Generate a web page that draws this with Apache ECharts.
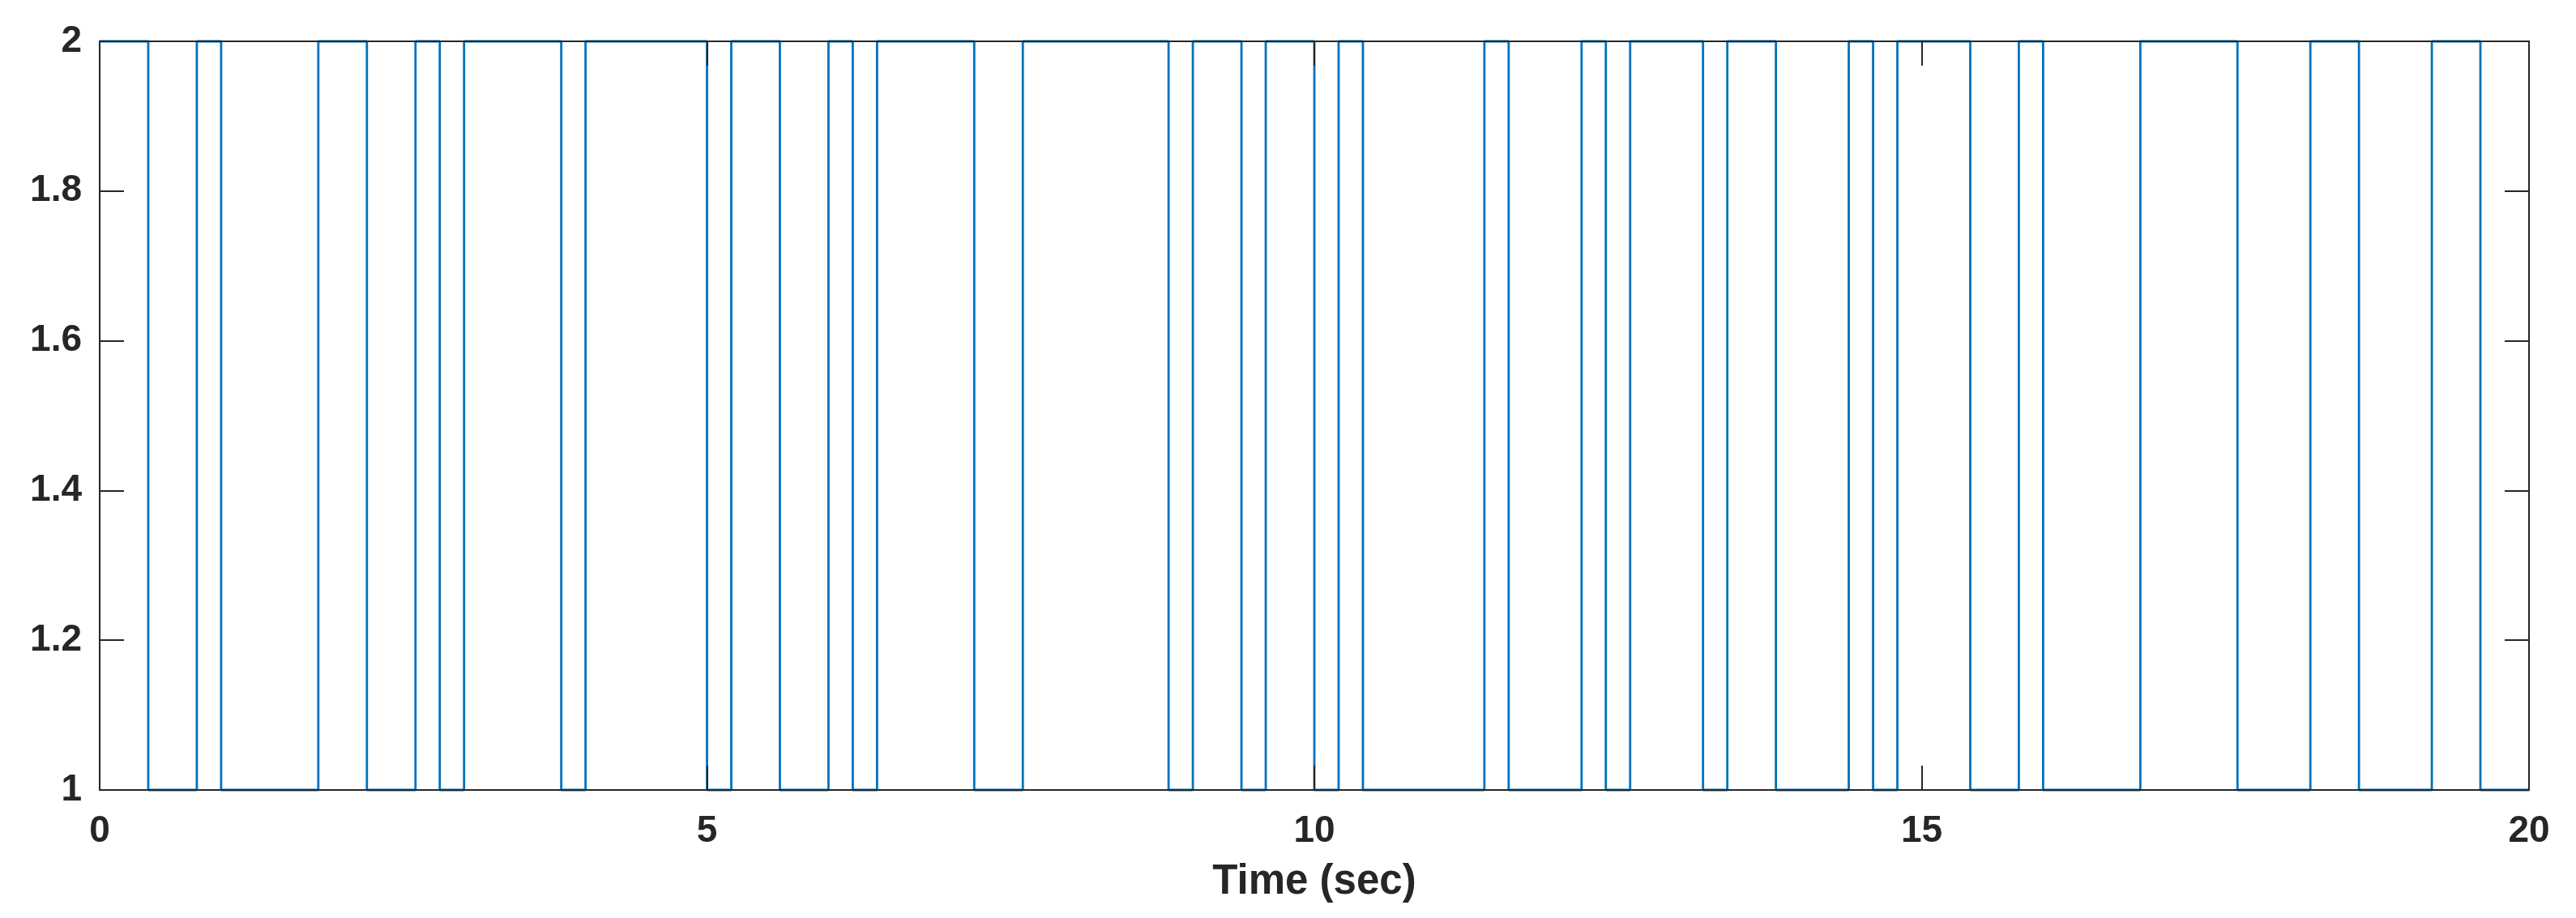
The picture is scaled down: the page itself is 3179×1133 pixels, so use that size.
<!DOCTYPE html>
<html>
<head>
<meta charset="utf-8">
<script src="https://cdn.jsdelivr.net/npm/echarts@6/dist/echarts.min.js"></script>
<style>
html,body{margin:0;padding:0;background:#fff;}
#chart{width:3179px;height:1133px;}
</style>
</head>
<body>
<div id="chart"></div>
<script>
// Switching times (sec) and the signal level held from each time onward
var switchTimes = [0, 0.4, 0.8, 1.0, 1.8, 2.2, 2.6, 2.8, 3.0, 3.8, 4.0, 5.0, 5.2, 5.6, 6.0, 6.2, 6.4, 7.2, 7.6, 8.8, 9.0, 9.4, 9.6, 10.0, 10.2, 10.4, 11.4, 11.6, 12.2, 12.4, 12.6, 13.2, 13.4, 13.8, 14.4, 14.6, 14.8, 15.4, 15.8, 16.0, 16.8, 17.6, 18.2, 18.6, 19.2, 19.6, 20];
var levels = [2, 1, 2, 1, 2, 1, 2, 1, 2, 1, 2, 1, 2, 1, 2, 1, 2, 1, 2, 1, 2, 1, 2, 1, 2, 1, 2, 1, 2, 1, 2, 1, 2, 1, 2, 1, 2, 1, 2, 1, 2, 1, 2, 1, 2, 1, 1];
var xTicks = [0, 5, 10, 15, 20];
var yTicks = [1, 1.2, 1.4, 1.6, 1.8, 2];
var xLabel = 'Time (sec)';

var data = switchTimes.map(function (t, i) { return [t, levels[i]]; });
var axisColor = '#262626';
var fontFam = '"Liberation Sans", Arial, sans-serif';

var chart = echarts.init(document.getElementById('chart'), null, {renderer: 'canvas'});
chart.setOption({
  animation: false,
  backgroundColor: '#ffffff',
  grid: {left: 123, right: 58, top: 51, bottom: 158, show: false},
  xAxis: [{
    type: 'value', min: xTicks[0], max: xTicks[xTicks.length - 1], interval: 5,
    position: 'bottom', z: 5,
    name: xLabel, nameLocation: 'middle', nameGap: 88,
    nameTextStyle: {color: axisColor, fontSize: 51, fontWeight: 'bold', fontFamily: fontFam},
    axisLine: {show: true, onZero: false, lineStyle: {color: axisColor, width: 2}},
    axisTick: {show: true, inside: true, length: 30, lineStyle: {color: axisColor, width: 2}},
    axisLabel: {color: axisColor, fontSize: 46, fontWeight: 'bold', fontFamily: fontFam, margin: 28},
    splitLine: {show: false}
  }, {
    type: 'value', min: xTicks[0], max: xTicks[xTicks.length - 1], interval: 5,
    position: 'top', z: 5,
    axisLine: {show: true, onZero: false, lineStyle: {color: axisColor, width: 2}},
    axisTick: {show: true, inside: true, length: 30, lineStyle: {color: axisColor, width: 2}},
    axisLabel: {show: false},
    splitLine: {show: false}
  }],
  yAxis: [{
    type: 'value', min: yTicks[0], max: yTicks[yTicks.length - 1], interval: 0.2,
    position: 'left', z: 5,
    axisLine: {show: true, onZero: false, lineStyle: {color: axisColor, width: 2}},
    axisTick: {show: true, inside: true, length: 30, lineStyle: {color: axisColor, width: 2}},
    axisLabel: {color: axisColor, fontSize: 46, fontWeight: 'bold', fontFamily: fontFam, margin: 22,
      formatter: function (v) { return String(Math.round(v * 10) / 10); }},
    splitLine: {show: false}
  }, {
    type: 'value', min: yTicks[0], max: yTicks[yTicks.length - 1], interval: 0.2,
    position: 'right', z: 5,
    axisLine: {show: true, onZero: false, lineStyle: {color: axisColor, width: 2}},
    axisTick: {show: true, inside: true, length: 30, lineStyle: {color: axisColor, width: 2}},
    axisLabel: {show: false},
    splitLine: {show: false}
  }],
  series: [{
    type: 'line',
    xAxisIndex: 0, yAxisIndex: 0,
    step: 'end',
    data: data,
    showSymbol: false,
    symbol: 'none',
    z: 2,
    clip: false,
    lineStyle: {color: '#0072BD', width: 2.8}
  }]
});
</script>
</body>
</html>
